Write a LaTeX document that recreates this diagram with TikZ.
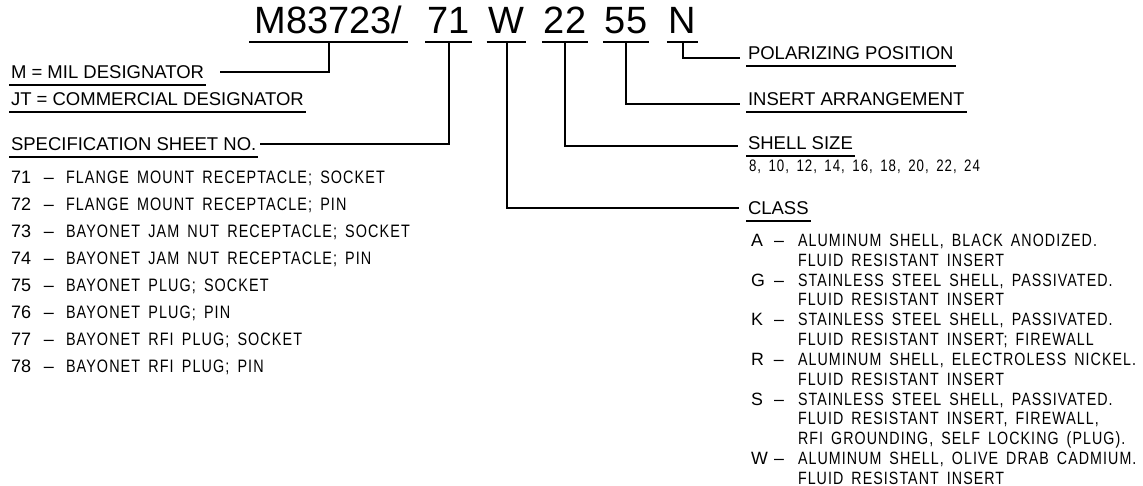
\documentclass[tikz,border=0pt]{standalone}
\usepackage{fontspec}
\setmainfont{Liberation Sans}
\newfontfamily\cadfont[FakeStretch=0.8,LetterSpace=6,WordSpace=1.6]{Liberation Sans}
\usetikzlibrary{positioning, calc}
\newcommand\specrow[2]{\makebox[33pt][l]{\normalfont #1}\makebox[22pt][l]{\normalfont\textendash}#2}
\newcommand\classrow[2]{\makebox[23pt][l]{\normalfont #1}\makebox[24pt][l]{\normalfont\textendash}#2}
\newcommand\classmore[1]{\hspace*{47pt}#1}

\begin{document}
\begin{tikzpicture}[x=1pt, y=-1pt, line width=2pt,
  code/.style={font=\fontsize{38}{40}\selectfont, inner xsep=1pt, inner ysep=7pt, text depth=0pt, anchor=south},
  lab/.style={font=\fontsize{18.5}{20}\selectfont, inner xsep=1pt, inner ysep=5pt, text height=13pt, text depth=0pt, anchor=south west},
  uline/.style={line width=1.6pt},
  cad/.style={font=\cadfont\fontsize{18}{27}\selectfont, align=left, anchor=north west, inner sep=0pt}]
\useasboundingbox (0,0) rectangle (1143,486);
% part number
\node[code, inner xsep=4.5pt] (pre) at (328.5,42) {M83723/};
\node[code] (sheet) at (448.5,42) {71};
\node[code] (cls) at (506.5,42) {W};
\node[code] (size) at (565,42) {22};
\node[code] (arr) at (626,42) {55};
\node[code] (pos) at (682.5,42) {N};
\draw[line width=2.5pt] (pre.south west) -- (pre.south east);
\draw[line width=2.5pt] (sheet.south west) -- (sheet.south east);
\draw[line width=2.5pt] (cls.south west) -- (cls.south east);
\draw[line width=2.5pt] (size.south west) -- (size.south east);
\draw[line width=2.5pt] (arr.south west) -- (arr.south east);
\draw[line width=2.5pt] (pos.south west) -- (pos.south east);
% labels
\node[lab] (mdes) at (9,85) {M = MIL DESIGNATOR};
\node[lab] (jtdes) at (9,112) {JT = COMMERCIAL DESIGNATOR};
\node[lab] (spec) at (9,157) {SPECIFICATION SHEET NO.};
\node[lab] (polar) at (746,66) {POLARIZING POSITION};
\node[lab] (insert) at (746,112) {INSERT ARRANGEMENT};
\node[lab] (shell) at (746,156) {SHELL SIZE};
\node[lab] (class) at (746,221) {CLASS};
\draw[uline] (mdes.south west) -- (mdes.south east);
\draw[uline] (jtdes.south west) -- (jtdes.south east);
\draw[uline] (spec.south west) -- (spec.south east);
\draw[uline] (polar.south west) -- (polar.south east);
\draw[uline] (insert.south west) -- (insert.south east);
\draw[uline] (shell.south west) -- (shell.south east);
\draw[uline] (class.south west) -- (class.south east);
% leaders
\draw (pre.south) |- ([xshift=14pt]mdes.east);
\draw (sheet.south) |- ([xshift=2pt]spec.east);
\draw (cls.south) |- ([xshift=-7pt]class.west);
\draw (size.south) |- ([xshift=-8pt, yshift=-3pt]shell.west);
\draw (arr.south) |- ([xshift=-6pt, yshift=-4.5pt]insert.west);
\draw (pos.south) |- ([xshift=-6pt, yshift=-4.5pt]polar.west);
% lists
\node[cad] (speclist) at (10,170) {\specrow{71}{FLANGE MOUNT RECEPTACLE; SOCKET}\\
  \specrow{72}{FLANGE MOUNT RECEPTACLE; PIN}\\
  \specrow{73}{BAYONET JAM NUT RECEPTACLE; SOCKET}\\
  \specrow{74}{BAYONET JAM NUT RECEPTACLE; PIN}\\
  \specrow{75}{BAYONET PLUG; SOCKET}\\
  \specrow{76}{BAYONET PLUG; PIN}\\
  \specrow{77}{BAYONET RFI PLUG; SOCKET}\\
  \specrow{78}{BAYONET RFI PLUG; PIN}};
\node[cad, font=\cadfont\fontsize{16.6}{19.83}\selectfont, anchor=base west] (sizes) at (748,172) {8, 10, 12, 14, 16, 18, 20, 22, 24};
\node[cad, font=\cadfont\fontsize{17.8}{19.83}\selectfont] (classlist) at (750,233) {\classrow{A}{ALUMINUM SHELL, BLACK ANODIZED.}\\
  \classmore{FLUID RESISTANT INSERT}\\
  \classrow{G}{STAINLESS STEEL SHELL, PASSIVATED.}\\
  \classmore{FLUID RESISTANT INSERT}\\
  \classrow{K}{STAINLESS STEEL SHELL, PASSIVATED.}\\
  \classmore{FLUID RESISTANT INSERT; FIREWALL}\\
  \classrow{R}{ALUMINUM SHELL, ELECTROLESS NICKEL.}\\
  \classmore{FLUID RESISTANT INSERT}\\
  \classrow{S}{STAINLESS STEEL SHELL, PASSIVATED.}\\
  \classmore{FLUID RESISTANT INSERT, FIREWALL,}\\
  \classmore{RFI GROUNDING, SELF LOCKING (PLUG).}\\
  \classrow{W}{ALUMINUM SHELL, OLIVE DRAB CADMIUM.}\\
  \classmore{FLUID RESISTANT INSERT}};
\end{tikzpicture}
\end{document}
